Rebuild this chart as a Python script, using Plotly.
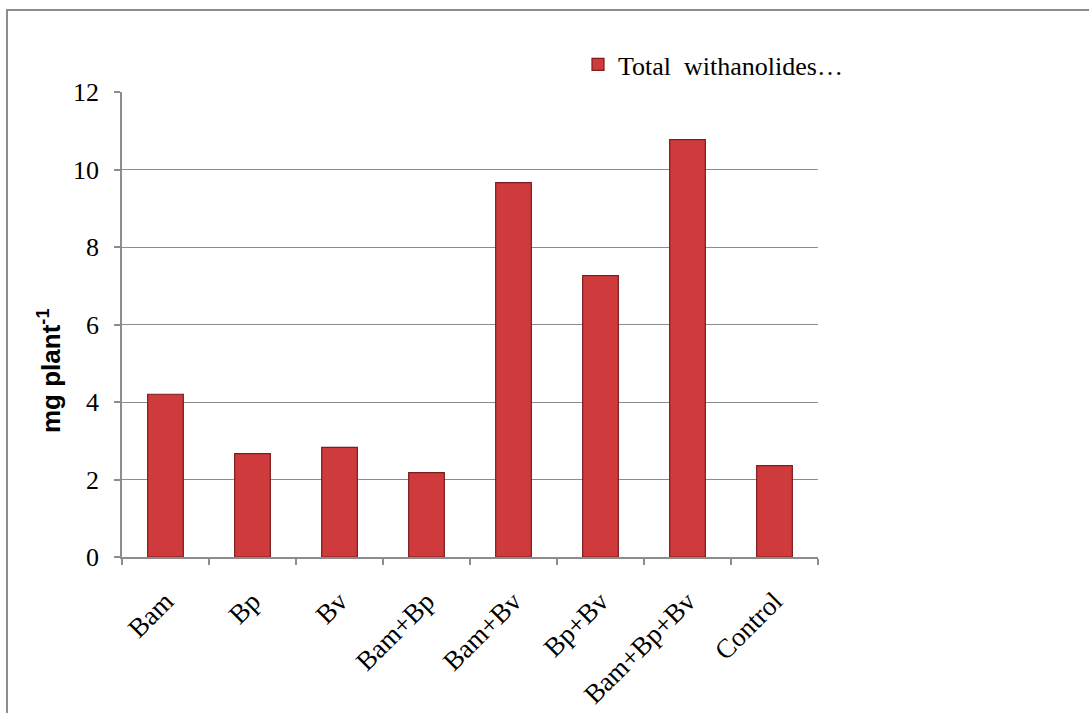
import plotly.graph_objects as go

# Treatments and total withanolide yield per plant
treatments = ["Bam", "Bp", "Bv", "Bam+Bp", "Bam+Bv", "Bp+Bv", "Bam+Bp+Bv", "Control"]
withanolides = [4.20, 2.67, 2.83, 2.18, 9.66, 7.26, 10.77, 2.36]
y_ticks = [0, 2, 4, 6, 8, 10, 12]

W, H = 1089, 713
L, R, T, B = 122, 271, 92, 156
pw, ph = W - L - R, H - T - B

def px_x(px):
    return (px - L) / pw

def px_y(py):
    return (H - B - py) / ph

grey = "#8c8c8c"
serif = "Liberation Serif, Times New Roman, serif"

fig = go.Figure()
fig.add_trace(go.Bar(
    x=treatments,
    y=withanolides,
    name="Total\u00a0 withanolides…",
    marker=dict(color="#cf3b3c", line=dict(color="#7d1c1c", width=1.2)),
    width=0.41,
))

fig.update_layout(
    width=W, height=H,
    margin=dict(l=L, r=R, t=T, b=B, autoexpand=False),
    paper_bgcolor="white", plot_bgcolor="white",
    font=dict(family=serif, size=26, color="black"),
    showlegend=True,
    legend=dict(
        x=px_x(578), y=px_y(41), xanchor="left", yanchor="top",
        font=dict(family=serif, size=26, color="black"),
        bgcolor="rgba(0,0,0,0)", itemwidth=30,
    ),
    xaxis=dict(
        automargin=False,
        showline=True, linecolor=grey, linewidth=1.5,
        ticks="outside", tickson="boundaries", ticklen=6, tickcolor=grey, tickwidth=1.5,
        tickangle=-45, tickfont=dict(family=serif, size=27, color="black"),
        ticklabelstandoff=16,
        showgrid=False,
    ),
    yaxis=dict(
        automargin=False,
        range=[0, 12], tickvals=y_ticks,
        showline=True, linecolor=grey, linewidth=1.5,
        ticks="outside", ticklen=6, tickcolor=grey, tickwidth=1.5,
        tickfont=dict(family=serif, size=26, color="black"),
        ticklabelstandoff=10,
        showgrid=True, gridcolor=grey, gridwidth=1.4,
        zeroline=False,
    ),
    annotations=[dict(
        text="<b>mg plant<sup>-1</sup></b>",
        xref="paper", yref="paper", x=px_x(49), y=px_y(371),
        xanchor="center", yanchor="middle", textangle=-90, showarrow=False,
        font=dict(family="Liberation Sans, Arial, sans-serif", size=26, color="black"),
    )],
    shapes=[dict(
        type="rect", xref="paper", yref="paper",
        x0=px_x(7), x1=px_x(1100), y0=px_y(730), y1=px_y(10),
        line=dict(color=grey, width=2), fillcolor="rgba(0,0,0,0)", layer="below",
    )],
)

fig.write_html("out.html")
